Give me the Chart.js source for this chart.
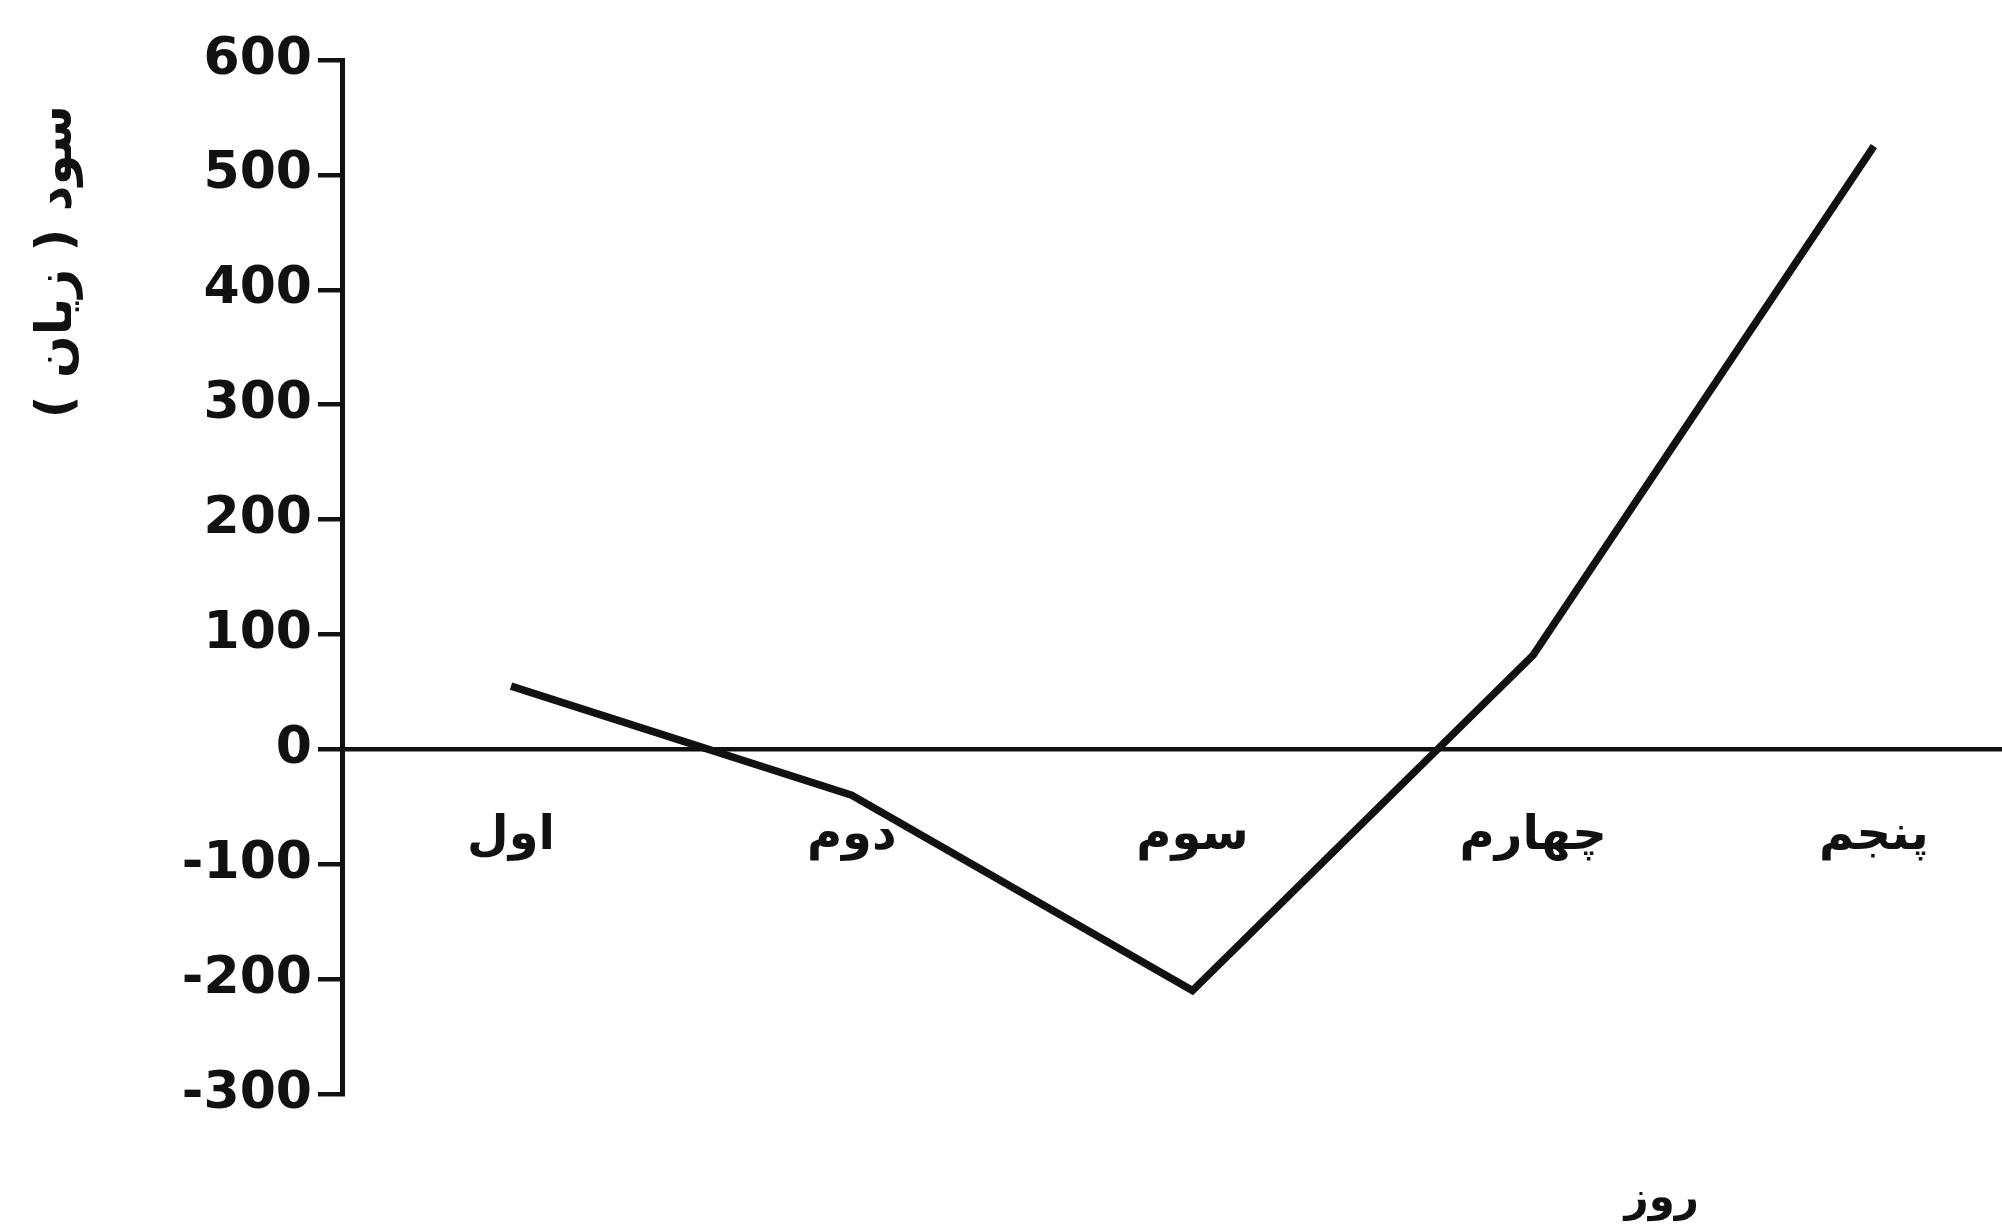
<!DOCTYPE html>
<html>
<head>
<meta charset="utf-8">
<script src="https://cdn.jsdelivr.net/npm/chart.js"></script>
<style>
  html, body { margin: 0; padding: 0; background: #fff; }
  #wrap { width: 2002px; height: 1227px; }
</style>
</head>
<body>
<div id="wrap"><canvas id="profitChart"></canvas></div>
<script>
// Data
var dayLabels = ['اول', 'دوم', 'سوم', 'چهارم', 'پنجم'];
var profitValues = [55, -40, -210, 82, 525];
var yTicks = [600, 500, 400, 300, 200, 100, 0, -100, -200, -300];
var yTitle = 'سود ( زیان )';
var xTitle = 'روز';

var fontFamily = '"DejaVu Sans", "Liberation Sans", sans-serif';

// Axis titles drawn by hand, the scan puts them off-centre
var titlesPlugin = {
    id: 'titles',
    afterDraw: function(chart) {
        var ctx = chart.ctx;
        var area = chart.chartArea;
        ctx.save();
        ctx.fillStyle = '#111';
        ctx.textAlign = 'center';
        ctx.textBaseline = 'middle';
        ctx.direction = 'rtl';
        // y title
        ctx.font = 'bold 50px ' + fontFamily;
        ctx.save();
        ctx.translate(58, area.top + (area.bottom - area.top) * 0.195);
        ctx.rotate(-Math.PI / 2);
        ctx.fillText(yTitle, 0, 0);
        ctx.restore();
        // x title
        ctx.font = 'bold 42px ' + fontFamily;
        ctx.fillText(xTitle, area.left + (area.right - area.left) * 0.795, area.bottom + 106);
        ctx.restore();
    }
};

var points = profitValues.map(function(v, i) {
    return { x: i, y: v };
});

var ctx = document.getElementById('profitChart').getContext('2d');
var chart = new Chart(ctx, {
    type: 'line',
    data: {
        datasets: [{
            data: points,
            borderColor: '#111',
            borderWidth: 7.5,
            pointRadius: 0,
            fill: false,
            tension: 0
        }]
    },
    options: {
        responsive: true,
        maintainAspectRatio: false,
        animation: false,
        layout: {
            padding: { top: 60, bottom: 133, left: 0, right: 0 }
        },
        plugins: {
            legend: { display: false },
            tooltip: { enabled: false }
        },
        scales: {
            x: {
                type: 'linear',
                position: { y: 0 },
                min: -0.496,
                max: 4.376,
                afterBuildTicks: function(scale) {
                    scale.ticks = dayLabels.map(function(l, i) { return { value: i }; });
                },
                ticks: {
                    callback: function(value) { return dayLabels[value]; },
                    color: '#111',
                    font: { family: fontFamily, size: 48, weight: 'bold' },
                    padding: 58,
                    maxRotation: 0,
                    autoSkip: false
                },
                grid: { display: false, drawTicks: false },
                border: { display: true, color: '#111', width: 4.5 }
            },
            y: {
                min: -300,
                max: 600,
                afterBuildTicks: function(scale) {
                    scale.ticks = yTicks.map(function(v) { return { value: v }; });
                },
                afterFit: function(scale) {
                    scale.width = 342;
                },
                ticks: {
                    color: '#111',
                    font: { family: fontFamily, size: 52, weight: 'bold' },
                    padding: 6
                },
                grid: {
                    drawOnChartArea: false,
                    drawTicks: true,
                    tickLength: 24,
                    color: '#111',
                    lineWidth: 4.5
                },
                border: { display: true, color: '#111', width: 5 }
            }
        }
    },
    plugins: [titlesPlugin]
});
</script>
</body>
</html>
